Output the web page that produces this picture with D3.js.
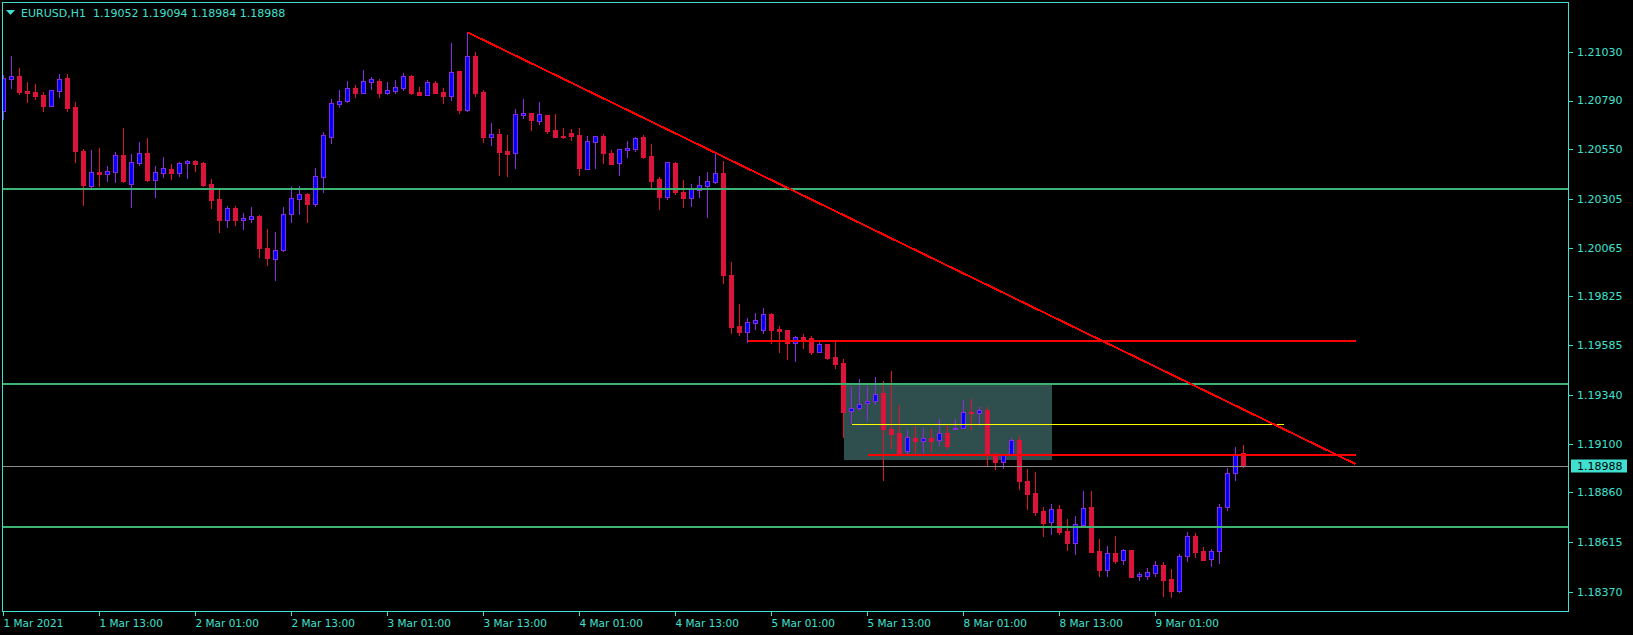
<!DOCTYPE html>
<html>
<head>
<meta charset="utf-8">
<script src="https://cdn.jsdelivr.net/npm/d3@7"></script>
<style>
  html, body { margin: 0; padding: 0; background: #000; }
  svg { display: block; }
  text { font-family: "DejaVu Sans", sans-serif; }
</style>
</head>
<body>
<svg id="chart" width="1633" height="635"></svg>
<script>
// ---------------- DATA ----------------
const symbolTitle = "EURUSD,H1";
const lastOHLC = ["1.19052", "1.19094", "1.18984", "1.18988"];

const open = [
1.20740,1.20897,1.20911,1.20837,1.20832,1.20816,1.20764,1.20838,1.20901,1.20758,
1.20541,1.20370,1.20438,1.20430,1.20439,1.20520,1.20380,1.20484,1.20530,1.20400,
1.20434,1.20451,1.20434,1.20481,1.20491,1.20481,1.20377,1.20303,1.20203,1.20259,
1.20203,1.20208,1.20220,1.20062,1.20011,1.20052,1.20230,1.20306,1.20330,1.20282,
1.20415,1.20612,1.20774,1.20788,1.20850,1.20828,1.20883,1.20886,1.20828,1.20838,
1.20853,1.20911,1.20832,1.20819,1.20876,1.20832,1.20814,1.20935,1.20745,1.21009,
1.20832,1.20612,1.20624,1.20541,1.20533,1.20719,1.20727,1.20691,1.20719,1.20643,
1.20615,1.20630,1.20619,1.20454,1.20587,1.20615,1.20531,1.20481,1.20548,1.20553,
1.20610,1.20517,1.20403,1.20316,1.20482,1.20339,1.20311,1.20348,1.20370,1.20390,
1.20433,1.19931,1.19679,1.19651,1.19696,1.19661,1.19739,1.19665,1.19660,1.19597,
1.19625,1.19620,1.19553,1.19591,1.19525,1.19497,1.19261,1.19274,1.19299,1.19308,
1.19348,1.19171,1.19151,1.19062,1.19129,1.19113,1.19128,1.19117,1.19151,1.19171,
1.19176,1.19257,1.19252,1.19264,1.19044,1.19008,1.19047,1.19117,1.18916,1.18855,
1.18768,1.18716,1.18777,1.18668,1.18612,1.18701,1.18787,1.18570,1.18479,1.18560,
1.18529,1.18575,1.18447,1.18450,1.18464,1.18502,1.18433,1.18376,1.18545,1.18645,
1.18571,1.18532,1.18571,1.18788,1.18954,1.19052];

const high = [
1.20916,1.21009,1.20950,1.20881,1.20871,1.20832,1.20840,1.20921,1.20921,1.20783,
1.20553,1.20546,1.20556,1.20467,1.20536,1.20655,1.20527,1.20586,1.20605,1.20467,
1.20512,1.20476,1.20487,1.20497,1.20497,1.20487,1.20403,1.20351,1.20269,1.20269,
1.20236,1.20264,1.20226,1.20157,1.20142,1.20264,1.20364,1.20369,1.20334,1.20456,
1.20633,1.20797,1.20842,1.20886,1.20865,1.20940,1.20907,1.20896,1.20881,1.20890,
1.20925,1.20916,1.20857,1.20891,1.20886,1.20852,1.21073,1.20935,1.21126,1.21029,
1.20842,1.20679,1.20650,1.20620,1.20748,1.20797,1.20727,1.20781,1.20719,1.20724,
1.20655,1.20650,1.20655,1.20615,1.20614,1.20625,1.20545,1.20550,1.20591,1.20610,
1.20619,1.20576,1.20413,1.20487,1.20487,1.20398,1.20379,1.20418,1.20438,1.20530,
1.20492,1.19995,1.19788,1.19719,1.19743,1.19768,1.19743,1.19679,1.19660,1.19630,
1.19640,1.19630,1.19610,1.19591,1.19606,1.19517,1.19381,1.19418,1.19386,1.19428,
1.19409,1.19458,1.19289,1.19167,1.19187,1.19179,1.19174,1.19221,1.19198,1.19221,
1.19315,1.19318,1.19281,1.19282,1.19060,1.19048,1.19129,1.19139,1.18974,1.18959,
1.18787,1.18801,1.18796,1.18727,1.18744,1.18867,1.18867,1.18630,1.18596,1.18645,
1.18580,1.18575,1.18466,1.18488,1.18522,1.18517,1.18483,1.18557,1.18665,1.18660,
1.18593,1.18581,1.18803,1.18980,1.19084,1.19094];

const low = [
1.20699,1.20852,1.20821,1.20783,1.20797,1.20740,1.20764,1.20809,1.20740,1.20489,
1.20275,1.20364,1.20370,1.20394,1.20389,1.20389,1.20267,1.20472,1.20395,1.20316,
1.20415,1.20405,1.20420,1.20410,1.20444,1.20370,1.20262,1.20144,1.20168,1.20177,
1.20157,1.20192,1.20019,1.19980,1.19906,1.20050,1.20193,1.20233,1.20193,1.20272,
1.20341,1.20582,1.20760,1.20783,1.20809,1.20828,1.20847,1.20809,1.20822,1.20828,
1.20840,1.20824,1.20819,1.20819,1.20827,1.20778,1.20792,1.20730,1.20738,1.20812,
1.20587,1.20571,1.20423,1.20418,1.20459,1.20704,1.20646,1.20676,1.20631,1.20609,
1.20607,1.20595,1.20423,1.20454,1.20459,1.20482,1.20479,1.20425,1.20513,1.20543,
1.20508,1.20361,1.20257,1.20306,1.20330,1.20266,1.20272,1.20316,1.20216,1.20382,
1.19893,1.19646,1.19637,1.19602,1.19666,1.19646,1.19597,1.19553,1.19517,1.19509,
1.19571,1.19542,1.19550,1.19517,1.19474,1.19134,1.19200,1.19266,1.19219,1.19295,
1.18921,1.19080,1.19054,1.19052,1.19052,1.19044,1.19065,1.19093,1.19075,1.19171,
1.19176,1.19171,1.19193,1.18995,1.18975,1.18982,1.19044,1.18877,1.18778,1.18749,
1.18645,1.18657,1.18655,1.18576,1.18558,1.18701,1.18568,1.18450,1.18450,1.18514,
1.18507,1.18445,1.18430,1.18435,1.18450,1.18351,1.18346,1.18371,1.18524,1.18543,
1.18529,1.18497,1.18512,1.18773,1.18921,1.18984];

const close = [
1.20899,1.20909,1.20833,1.20828,1.20814,1.20764,1.20840,1.20894,1.20755,1.20541,
1.20374,1.20436,1.20430,1.20441,1.20520,1.20394,1.20486,1.20530,1.20400,1.20436,
1.20456,1.20434,1.20481,1.20491,1.20479,1.20374,1.20301,1.20203,1.20259,1.20203,
1.20210,1.20220,1.20065,1.20016,1.20052,1.20230,1.20308,1.20328,1.20282,1.20418,
1.20620,1.20778,1.20788,1.20850,1.20828,1.20886,1.20894,1.20827,1.20840,1.20855,
1.20909,1.20827,1.20819,1.20880,1.20827,1.20814,1.20929,1.20745,1.21009,1.20828,
1.20612,1.20624,1.20538,1.20528,1.20722,1.20728,1.20695,1.20722,1.20641,1.20612,
1.20610,1.20617,1.20459,1.20589,1.20614,1.20533,1.20479,1.20550,1.20556,1.20604,
1.20512,1.20395,1.20316,1.20487,1.20341,1.20311,1.20353,1.20372,1.20394,1.20433,
1.19932,1.19676,1.19651,1.19698,1.19709,1.19739,1.19661,1.19655,1.19597,1.19624,
1.19615,1.19551,1.19591,1.19522,1.19494,1.19257,1.19274,1.19294,1.19308,1.19343,
1.19170,1.19149,1.19054,1.19131,1.19115,1.19126,1.19115,1.19151,1.19090,1.19177,
1.19254,1.19252,1.19264,1.19048,1.19011,1.19048,1.19117,1.18915,1.18854,1.18765,
1.18711,1.18777,1.18666,1.18612,1.18703,1.18782,1.18568,1.18479,1.18560,1.18522,
1.18575,1.18445,1.18458,1.18466,1.18502,1.18430,1.18376,1.18547,1.18645,1.18568,
1.18529,1.18571,1.18788,1.18954,1.19048,1.18988];

// time axis labels (one every 12 bars, starting at bar 0)
const timeLabels = ["1 Mar 2021","1 Mar 13:00","2 Mar 01:00","2 Mar 13:00","3 Mar 01:00",
  "3 Mar 13:00","4 Mar 01:00","4 Mar 13:00","5 Mar 01:00","5 Mar 13:00",
  "8 Mar 01:00","8 Mar 13:00","9 Mar 01:00"];
const timeLabelStep = 12;

// price axis labels
const priceTicks = [1.21030,1.20790,1.20550,1.20305,1.20065,1.19825,1.19585,1.19340,1.19100,1.18860,1.18615,1.18370];
const bidPrice = 1.18988;

// drawn objects
const greenLevels = [1.20356, 1.19395, 1.18691];
const trendBars = [58, 169];
const trendPrices = [1.21126, 1.19000];
const redLevelPrices = [1.19607, 1.19046];
const redLevelBars = [[93, 169], [108, 169]];
const yellowPrice = 1.19195;
const yellowBars = [106, 160];
const boxBars = [105, 131];
const boxPrices = [1.19396, 1.19021];

// ---------------- DRAW ----------------
const W = 1633, H = 635;
const plot = { left: 2.5, top: 2.5, right: 1568.5, bottom: 611.5 };
const FG = "#40e0d0";
const BULL_FILL = "#0000ff", BULL_LINE = "#8a2be2";
const BEAR_FILL = "#dc143c", BEAR_LINE = "#e0142c";

const x = d3.scaleLinear().domain([0, 1]).range([3.5, 11.5]);
const y = d3.scaleLinear().domain([1.18370, 1.21030]).range([591.9, 51.8]);
const ry = v => Math.round(y(v));

const svg = d3.select("#chart");
svg.append("rect").attr("width", W).attr("height", H).attr("fill", "#000");

svg.append("defs").append("clipPath").attr("id", "plotclip")
  .append("rect")
  .attr("x", plot.left + 0.5).attr("y", plot.top + 0.5)
  .attr("width", plot.right - plot.left - 1).attr("height", plot.bottom - plot.top - 1);

const g = svg.append("g").attr("clip-path", "url(#plotclip)").attr("shape-rendering", "crispEdges");

// rectangle object (background)
g.append("rect")
  .attr("x", x(boxBars[0])).attr("y", ry(boxPrices[0]))
  .attr("width", x(boxBars[1]) - x(boxBars[0]))
  .attr("height", ry(boxPrices[1]) - ry(boxPrices[0]))
  .attr("fill", "#2f4f4f");

// candles
const bars = d3.range(open.length).map(i => ({
  i, o: open[i], h: high[i], l: low[i], c: close[i], up: close[i] >= open[i]
}));

const cg = g.append("g");
cg.selectAll("line.wick").data(bars).join("line")
  .attr("class", "wick")
  .attr("x1", d => x(d.i)).attr("x2", d => x(d.i))
  .attr("y1", d => ry(d.h)).attr("y2", d => ry(d.l) + 1)
  .attr("stroke", d => d.up ? BULL_LINE : BEAR_LINE)
  .attr("stroke-width", 1);

cg.selectAll("rect.body").data(bars).join("rect")
  .attr("class", "body")
  .each(function(d) {
    const top = ry(Math.max(d.o, d.c));
    const bot = ry(Math.min(d.o, d.c));
    const el = d3.select(this);
    if (d.up) {
      el.attr("x", x(d.i) - 2).attr("width", 4)
        .attr("y", top + 0.5).attr("height", Math.max(bot - top, 1))
        .attr("fill", BULL_FILL).attr("stroke", BULL_LINE).attr("stroke-width", 1);
    } else {
      el.attr("x", x(d.i) - 2.5).attr("width", 5)
        .attr("y", top).attr("height", Math.max(bot - top + 1, 2))
        .attr("fill", BEAR_FILL);
    }
  });

// horizontal green levels
g.selectAll("line.green").data(greenLevels).join("line")
  .attr("x1", plot.left).attr("x2", plot.right)
  .attr("y1", d => ry(d)).attr("y2", d => ry(d))
  .attr("stroke", "#3cb371").attr("stroke-width", 2);

// bid line
g.append("line")
  .attr("x1", plot.left).attr("x2", plot.right)
  .attr("y1", ry(bidPrice) + 0.5).attr("y2", ry(bidPrice) + 0.5)
  .attr("stroke", "#8c8c8c").attr("stroke-width", 1);

// yellow line
g.append("line")
  .attr("x1", x(yellowBars[0])).attr("x2", x(yellowBars[1]))
  .attr("y1", ry(yellowPrice) + 0.5).attr("y2", ry(yellowPrice) + 0.5)
  .attr("stroke", "#ffff00").attr("stroke-width", 1);

// red horizontal levels
g.selectAll("line.redlvl").data(redLevelPrices).join("line")
  .attr("x1", (d, k) => x(redLevelBars[k][0])).attr("x2", (d, k) => x(redLevelBars[k][1]))
  .attr("y1", d => ry(d)).attr("y2", d => ry(d))
  .attr("stroke", "#ff0000").attr("stroke-width", 2);

// trend line
g.append("line")
  .attr("x1", x(trendBars[0])).attr("y1", y(trendPrices[0]))
  .attr("x2", x(trendBars[1])).attr("y2", y(trendPrices[1]))
  .attr("stroke", "#ff0000").attr("stroke-width", 2)
  .attr("shape-rendering", "crispEdges");

// frame
svg.append("rect")
  .attr("x", plot.left).attr("y", plot.top)
  .attr("width", plot.right - plot.left).attr("height", plot.bottom - plot.top)
  .attr("fill", "none").attr("stroke", FG).attr("stroke-width", 1)
  .attr("shape-rendering", "crispEdges");

// price axis
const pa = svg.append("g").attr("shape-rendering", "crispEdges");
pa.selectAll("line").data(priceTicks).join("line")
  .attr("x1", plot.right).attr("x2", plot.right + 4)
  .attr("y1", d => ry(d) + 0.5).attr("y2", d => ry(d) + 0.5)
  .attr("stroke", FG);
svg.append("g").selectAll("text").data(priceTicks).join("text")
  .attr("x", 1577).attr("y", d => y(d)).attr("dy", "0.36em")
  .attr("font-size", 11).attr("fill", FG)
  .text(d => d.toFixed(5));

// bid price box
svg.append("rect")
  .attr("x", 1571).attr("y", ry(bidPrice) - 6.5)
  .attr("width", 56).attr("height", 13)
  .attr("fill", FG);
svg.append("text")
  .attr("x", 1577).attr("y", y(bidPrice)).attr("dy", "0.36em")
  .attr("font-size", 11).attr("fill", "#000")
  .text(bidPrice.toFixed(5));

// time axis
const ta = svg.append("g");
ta.selectAll("line").data(timeLabels).join("line")
  .attr("x1", (d, k) => x(k * timeLabelStep)).attr("x2", (d, k) => x(k * timeLabelStep))
  .attr("y1", plot.bottom).attr("y2", plot.bottom + 4)
  .attr("stroke", FG).attr("shape-rendering", "crispEdges");
ta.selectAll("text").data(timeLabels).join("text")
  .attr("x", (d, k) => x(k * timeLabelStep))
  .attr("y", 626.5)
  .attr("font-size", 10.5).attr("fill", FG)
  .text(d => d);

// title
svg.append("path")
  .attr("d", "M6,10 L15,10 L10.5,15 Z")
  .attr("fill", FG);
svg.append("text")
  .attr("x", 21).attr("y", 17)
  .attr("font-size", 11).attr("fill", FG)
  .style("white-space", "pre")
  .text(symbolTitle + "  " + lastOHLC.join(" "));
</script>
</body>
</html>
